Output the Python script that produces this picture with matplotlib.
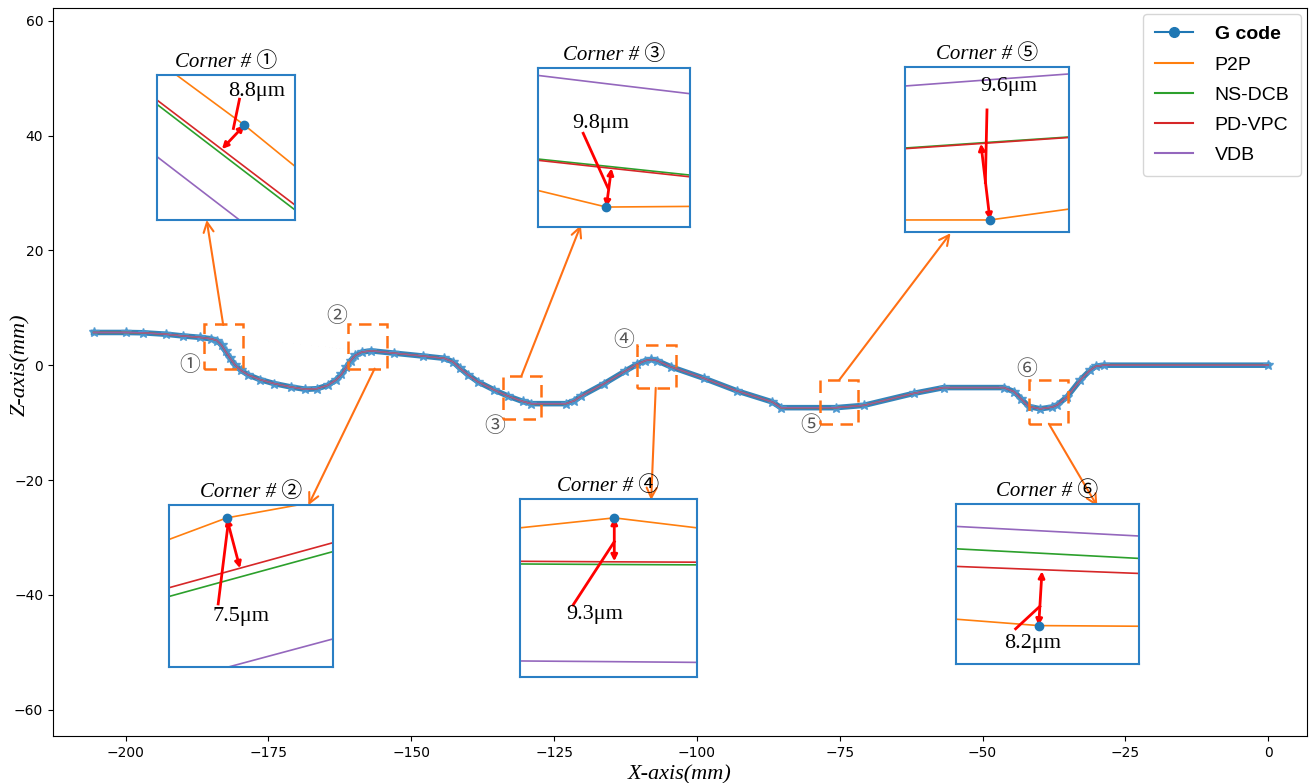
import matplotlib
matplotlib.use('Agg')
import matplotlib.pyplot as plt
from matplotlib.lines import Line2D
from matplotlib.patches import Rectangle

# ---- main tool path (G code), mm ----
gcode_x = [-205.6, -200, -197, -193, -190, -187, -185, -184, -183.2, -182.5, -181.7, -180.9,
           -179.8, -178.5, -176.5, -174, -171, -168.5, -166.5, -164.6, -163.2, -162.2, -161.4,
           -160.6, -159.8, -158.6, -157, -153, -148, -144.2, -142.7, -141.5, -140, -138.3,
           -135.5, -133, -130.5, -129, -122.9, -121.5, -120.3, -116.2, -112.5, -110.4, -109,
           -108, -107, -104.5, -98.7, -92.9, -86.8, -85.3, -75.7, -70.8, -62.0, -56.8, -46.3,
           -44.5, -43.2, -41.9, -39.9, -37.8, -36.9, -35.2, -32.9, -31.2, -30.2, -28.8, 0]
gcode_z = [5.7, 5.7, 5.65, 5.4, 5.1, 4.85, 4.6, 4.3, 3.5, 2.4, 1.2, 0.1,
           -0.9, -1.7, -2.5, -3.2, -3.8, -4.2, -4.1, -3.5, -2.6, -1.6, -0.4,
           0.8, 1.7, 2.3, 2.5, 2.1, 1.6, 1.2, 0.6, -0.5, -1.7, -2.9,
           -4.3, -5.4, -6.3, -6.7, -6.7, -6.2, -5.4, -3.2, -1.0, 0.2, 0.8,
           1.0, 0.8, -0.3, -2.3, -4.5, -6.4, -7.4, -7.4, -7.0, -4.9, -3.9, -3.9,
           -4.6, -5.9, -7.2, -7.6, -7.3, -6.9, -5.5, -2.6, -0.9, -0.2, 0.0, 0.0]

methods = ['P2P', 'NS-DCB', 'PD-VPC', 'VDB']
colors = {'G code': '#1f77b4', 'P2P': '#ff7f0e', 'NS-DCB': '#2ca02c',
          'PD-VPC': '#d62728', 'VDB': '#9467bd'}

# ---- corner zoom windows (mm) ----
corner_marks = ['①', '②', '③', '④', '⑤', '⑥']
corner_x0 = [-186.2, -161.1, -134.0, -110.5, -78.5, -41.9]
corner_x1 = [-179.4, -154.2, -127.3, -103.7, -71.8, -35.1]
corner_z0 = [-0.6, -0.6, -9.4, -3.95, -10.3, -10.2]
corner_z1 = [7.1, 7.1, -1.86, 3.5, -2.6, -2.6]
errors = ['8.8μm', '7.5μm', '9.8μm', '9.3μm', '9.6μm', '8.2μm']

# ---- local profiles inside each zoom (normalised x: left, G-code point, right) ----
inset_xm = [0.633, 0.352, 0.449, 0.533, 0.518, 0.452]
inset_gz = [0.655, 0.921, 0.126, 0.894, 0.073, 0.24]
p2p = [[1.10, 0.655, 0.37], [0.788, 0.921, 1.04], [0.23, 0.126, 0.13],
       [0.838, 0.894, 0.838], [0.073, 0.073, 0.139], [0.28, 0.24, 0.236]]
nsdcb = [[0.798, 0.336, 0.069], [0.436, 0.534, 0.713], [0.428, 0.383, 0.327],
         [0.635, 0.632, 0.63], [0.509, 0.544, 0.576], [0.72, 0.693, 0.66]]
pdvpc = [[0.828, 0.369, 0.103], [0.49, 0.588, 0.768], [0.42, 0.373, 0.316],
         [0.65, 0.647, 0.645], [0.505, 0.54, 0.573], [0.61, 0.59, 0.566]]
vdb = [[0.437, -0.026, -0.295], [-0.098, -0.002, 0.174], [0.954, 0.902, 0.839],
       [0.09, 0.086, 0.082], [0.885, 0.923, 0.958], [0.86, 0.833, 0.8]]

# layout: inset boxes (figure fraction), labels, arrows
inset_pos = [[0.1198, 0.719, 0.1053, 0.185], [0.1289, 0.148, 0.1251, 0.2069],
             [0.4104, 0.710, 0.1160, 0.203], [0.3966, 0.1354, 0.1350, 0.2273],
             [0.6903, 0.7037, 0.1251, 0.2107], [0.7292, 0.152, 0.1396, 0.2043]]
link_from = [(-182.9, 7.0), (-156.4, -0.6), (-130.7, -1.86), (-107.2, -3.95), (-75.1, -2.6), (-38.4, -10.2)]
link_to = [(-185.8, 25.3), (-168.0, -24.4), (-120.3, 24.4), (-108.0, -23.5), (-55.6, 23.0), (-29.9, -24.6)]
mark_pos = [(-188.8, 0.0), (-163.1, 8.5), (-135.3, -10.6), (-112.8, 4.4), (-80.1, -10.4), (-42.3, -0.7)]
arrow_end = [(0.47, 0.49), (0.433, 0.61), (0.483, 0.37), (0.533, 0.65), (0.463, 0.535), (0.47, 0.58)]
lead_a = [(0.597, 0.834), (0.30, 0.39), (0.297, 0.59), (0.30, 0.404), (0.50, 0.74), (0.326, 0.22)]
lead_b = [(0.553, 0.632), (0.36, 0.88), (0.46, 0.245), (0.533, 0.76), (0.49, 0.30), (0.458, 0.36)]
text_pos = [(0.72, 0.885), (0.44, 0.31), (0.415, 0.65), (0.424, 0.352), (0.63, 0.88), (0.42, 0.13)]

orange = '#ff7014'
fig = plt.figure(figsize=(13.11, 7.83), dpi=100)
ax = fig.add_axes([0.0404, 0.060, 0.9566, 0.9296])

ax.plot(gcode_x, gcode_z, '-', color=colors['G code'], lw=4, marker='*', ms=7,
        mfc='#4a97d0', mec='#4a97d0', alpha=0.9, zorder=2)
for m in methods:
    ax.plot(gcode_x, gcode_z, color=colors[m], lw=1.0, alpha=0.8, zorder=3)

for i in range(6):
    ax.add_patch(Rectangle((corner_x0[i], corner_z0[i]), corner_x1[i] - corner_x0[i],
                           corner_z1[i] - corner_z0[i], fill=False, ec=orange, lw=1.8,
                           ls=(0, (5, 3)), zorder=4))
    ax.annotate('', xy=link_to[i], xytext=link_from[i],
                arrowprops=dict(arrowstyle='->', color=orange, lw=1.5,
                                shrinkA=0, shrinkB=0, mutation_scale=18))
    ax.text(mark_pos[i][0], mark_pos[i][1], corner_marks[i], fontsize=15, color='#555555',
            ha='center', va='center', family=['Noto Sans CJK SC', 'DejaVu Sans'])

ax.set_xlim(-212.7, 6.8)
ax.set_ylim(-64.6, 62.2)
ax.set_xticks([-200, -175, -150, -125, -100, -75, -50, -25, 0])
ax.set_yticks([-60, -40, -20, 0, 20, 40, 60])
ax.set_xlabel('X-axis(mm)', fontsize=16, style='italic', family='Liberation Serif', labelpad=4)
ax.set_ylabel('Z-axis(mm)', fontsize=16, style='italic', family='Liberation Serif')
ax.yaxis.set_label_coords(-0.0185, 0.51)

handles = [Line2D([], [], color=colors['G code'], marker='o', ms=7, lw=1.5)]
handles += [Line2D([], [], color=colors[m], lw=1.5) for m in methods]
leg = ax.legend(handles, ['G code'] + methods, loc='upper right',
                labelspacing=0.65, handlelength=2.0, handletextpad=1.1, borderpad=0.6,
                borderaxespad=0.3, prop={'family': 'Liberation Sans', 'size': 14})
leg.get_texts()[0].set_fontweight('bold')

for i in range(6):
    ia = fig.add_axes(inset_pos[i])
    xs = [0, inset_xm[i], 1]
    ia.plot(xs, p2p[i], color=colors['P2P'], lw=1.2)
    ia.plot(xs, nsdcb[i], color=colors['NS-DCB'], lw=1.2)
    ia.plot(xs, pdvpc[i], color=colors['PD-VPC'], lw=1.2)
    ia.plot(xs, vdb[i], color=colors['VDB'], lw=1.2)
    ia.plot(inset_xm[i], inset_gz[i], 'o', color=colors['G code'], ms=6, zorder=5)
    ia.annotate('', xy=arrow_end[i], xytext=(inset_xm[i], inset_gz[i]),
                arrowprops=dict(arrowstyle='<|-|>', color='red', lw=2,
                                shrinkA=0, shrinkB=0, mutation_scale=9))
    ia.plot([lead_a[i][0], lead_b[i][0]], [lead_a[i][1], lead_b[i][1]], color='red', lw=2)
    ia.text(text_pos[i][0], text_pos[i][1], errors[i], fontsize=16, ha='center', va='center',
            family='Liberation Serif')
    ia.set_xlim(0, 1)
    ia.set_ylim(0, 1)
    ia.set_xticks([])
    ia.set_yticks([])
    for s in ia.spines.values():
        s.set_color('#2a7fc4')
        s.set_linewidth(1.5)
    ia.set_title('Corner # ' + corner_marks[i], fontsize=15, style='italic', pad=6,
                 family=['Liberation Serif', 'Noto Sans CJK SC'])

fig.savefig('out.png', dpi=100)
